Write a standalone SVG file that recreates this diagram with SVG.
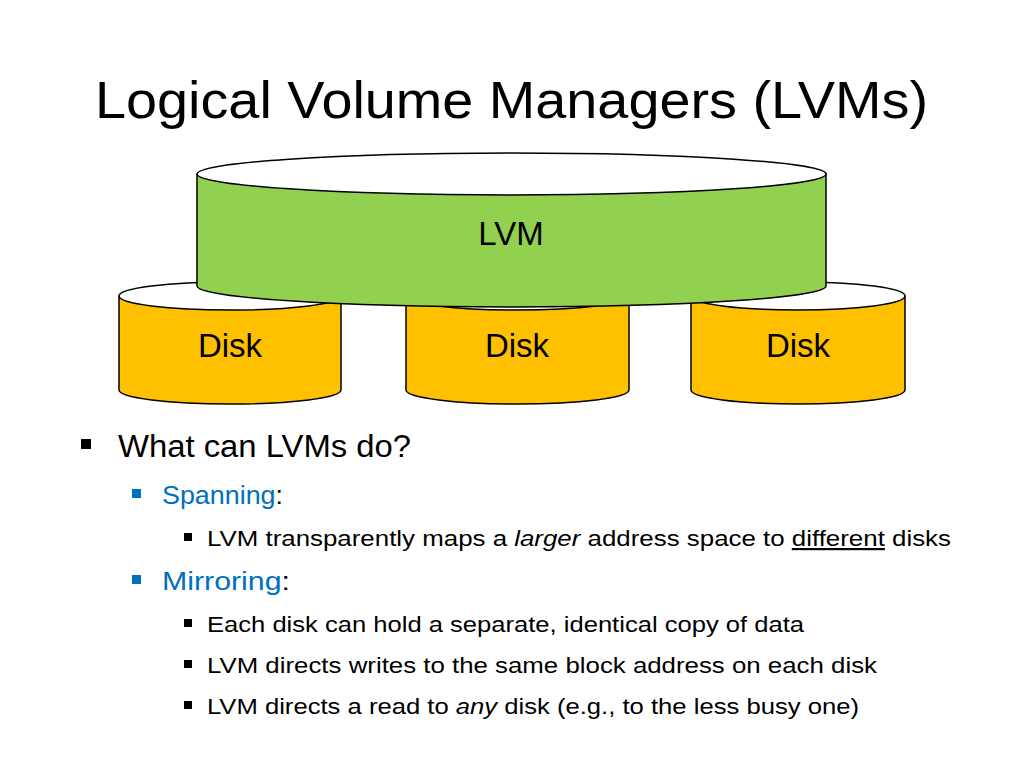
<svg xmlns="http://www.w3.org/2000/svg" width="1024" height="768" viewBox="0 0 1024 768">
<style>
text{font-family:"Liberation Sans","Open Sans",sans-serif;fill:#000}
.disk{fill:#ffc000;stroke:#000;stroke-width:1.5}
.lvm{fill:#92d050;stroke:#000;stroke-width:1.5}
.top{fill:#fff;stroke:#000;stroke-width:1.5}
.lbl{font-size:33px;text-anchor:middle}
.b1{font-size:31px}.b2{font-size:25px}.b3{font-size:22px}
.blue{fill:#0070c0}
</style>
<rect width="1024" height="768" fill="#fff"/>
<text x="95" y="118" font-size="52" textLength="833" lengthAdjust="spacingAndGlyphs">Logical Volume Managers (LVMs)</text>
<g id="disk1"><path class="disk" d="M119,296 V390 A111,14 0 0 0 341,390 V296 Z"/><ellipse class="top" cx="230" cy="296" rx="111" ry="14"/><text class="lbl" x="230" y="357">Disk</text></g>
<g id="disk2"><path class="disk" d="M406,296 V390 A111.5,14 0 0 0 629,390 V296 Z"/><ellipse class="top" cx="517.5" cy="296" rx="111.5" ry="14"/><text class="lbl" x="517" y="357">Disk</text></g>
<g id="disk3"><path class="disk" d="M691,296 V390 A107,14 0 0 0 905,390 V296 Z"/><ellipse class="top" cx="798" cy="296" rx="107" ry="14"/><text class="lbl" x="798" y="357">Disk</text></g>
<g id="lvm"><path class="lvm" d="M197,174 V286 A314.5,21 0 0 0 826,286 V174 Z"/><ellipse class="top" cx="511.5" cy="174" rx="314.5" ry="21"/><text class="lbl" x="511" y="245">LVM</text></g>
<rect x="81" y="439" width="10" height="10"/>
<text class="b1" x="118" y="457" textLength="293" lengthAdjust="spacingAndGlyphs">What can LVMs do?</text>
<rect x="132" y="489" width="9" height="9" fill="#0070c0"/>
<text class="b2" x="162" y="504" textLength="121" lengthAdjust="spacingAndGlyphs"><tspan class="blue">Spanning</tspan>:</text>
<rect x="184" y="533" width="8" height="8"/>
<text class="b3" x="207" y="546" textLength="744" lengthAdjust="spacingAndGlyphs">LVM transparently maps a <tspan font-style="italic">larger</tspan> address space to <tspan text-decoration="underline">different</tspan> disks</text>
<rect x="132" y="575" width="9" height="9" fill="#0070c0"/>
<text class="b2" x="162" y="590" textLength="128" lengthAdjust="spacingAndGlyphs"><tspan class="blue">Mirroring</tspan>:</text>
<rect x="184" y="619" width="8" height="8"/>
<text class="b3" x="207" y="632" textLength="597" lengthAdjust="spacingAndGlyphs">Each disk can hold a separate, identical copy of data</text>
<rect x="184" y="660" width="8" height="8"/>
<text class="b3" x="207" y="673" textLength="670" lengthAdjust="spacingAndGlyphs">LVM directs writes to the same block address on each disk</text>
<rect x="184" y="701" width="8" height="8"/>
<text class="b3" x="207" y="714" textLength="652" lengthAdjust="spacingAndGlyphs">LVM directs a read to <tspan font-style="italic">any</tspan> disk (e.g., to the less busy one)</text>
<g id="connectors"/>
</svg>
